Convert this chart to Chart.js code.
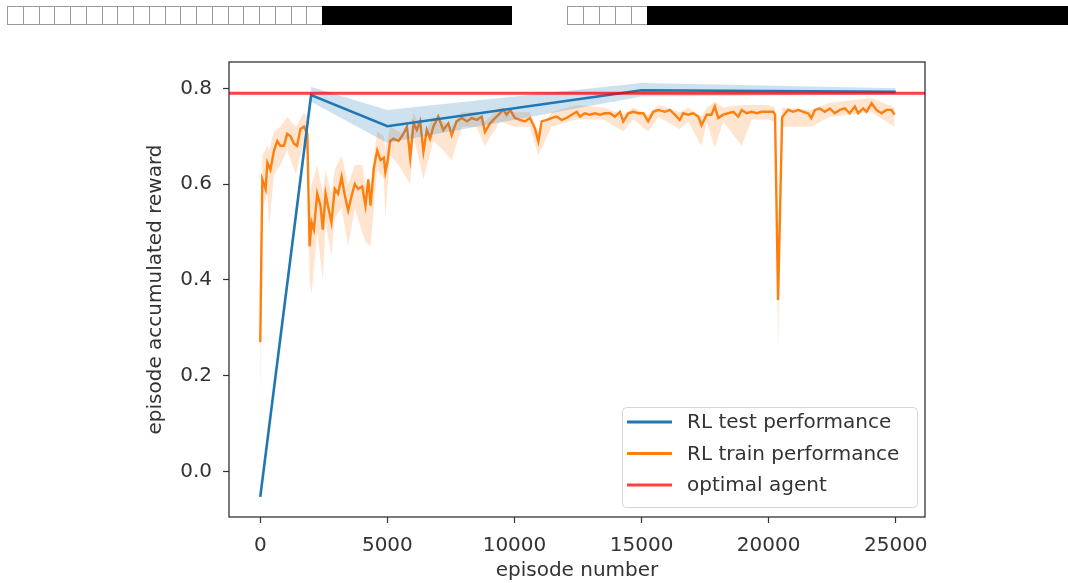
<!DOCTYPE html>
<html>
<head>
<meta charset="utf-8">
<script src="https://cdn.jsdelivr.net/npm/chart.js@4.4.1/dist/chart.umd.min.js"></script>
<style>
  html, body { margin: 0; padding: 0; background: #fff; }
  .wrap { position: relative; width: 1068px; height: 583px; overflow: hidden; }
  canvas { position: absolute; left: 0; top: 0; }
  .hdr { position: absolute; top: 6px; height: 19px; display: flex; }
  .hdr .box { height: 17px; border: 1px solid #999; border-right: none; background: #fff; }
  .hdr .box:last-of-type { border-right: 1px solid #999; }
  .hdr .bar { height: 19px; background: #000; }
</style>
</head>
<body>
<div class="wrap">
  <canvas id="chart" width="1068" height="583"></canvas>
  <div class="hdr" id="hdr1" style="left:7px"></div>
  <div class="hdr" id="hdr2" style="left:567px"></div>
</div>
<script>
// test runs (evaluated every few thousand episodes)
const testEpisodes = [0, 2000, 5000, 15000, 25000];
const testMean = [-0.053, 0.786, 0.721, 0.796, 0.793];
const testLow = [-0.056, 0.772, 0.686, 0.783, 0.787];
const testHigh = [-0.050, 0.803, 0.755, 0.811, 0.800];

// training curve (mean)
const trainEpisodes = [
  0, 80, 210, 280, 400, 540, 670, 790, 930, 1060, 1190, 1320, 1450, 1580, 1720, 1850,
  1940, 2020, 2110, 2240, 2370, 2460, 2570, 2700, 2800, 2930, 3060, 3200, 3330, 3460,
  3590, 3720, 3850, 4010, 4140, 4250, 4340, 4470, 4600, 4730, 4860, 4920, 5000, 5110,
  5240, 5440, 5630, 5770, 5900, 6030, 6160, 6290, 6420, 6550, 6680, 6810, 7000, 7200,
  7400, 7530, 7720, 7930, 8130, 8320, 8520, 8710, 8840, 9040, 9240, 9430, 9560, 9690,
  9830, 10020, 10220, 10410, 10610, 10800, 10940, 11070, 11270, 11460, 11660, 11860,
  12050, 12250, 12450, 12580, 12770, 12970, 13170, 13360, 13560, 13760, 13950, 14150,
  14280, 14480, 14670, 14870, 15070, 15260, 15460, 15660, 15920, 16110, 16310, 16500,
  16640, 16830, 17030, 17230, 17360, 17560, 17750, 17880, 18020, 18210, 18410, 18610,
  18800, 18940, 19130, 19330, 19530, 19720, 19990, 20180, 20250, 20370, 20530, 20760,
  20960, 21160, 21360, 21550, 21680, 21820, 22010, 22210, 22410, 22600, 22800, 23000,
  23190, 23390, 23520, 23720, 23850, 24050, 24240, 24440, 24640, 24830, 24950
];
const trainMean = [
  0.270, 0.610, 0.590, 0.645, 0.630, 0.670, 0.690, 0.680, 0.680, 0.705, 0.700, 0.685, 0.680, 0.715, 0.720, 0.705,
  0.470, 0.520, 0.505, 0.580, 0.555, 0.505, 0.580, 0.545, 0.520, 0.590, 0.580, 0.615, 0.575, 0.545,
  0.575, 0.600, 0.590, 0.595, 0.555, 0.610, 0.555, 0.635, 0.670, 0.650, 0.655, 0.625, 0.645, 0.690,
  0.695, 0.690, 0.705, 0.720, 0.655, 0.727, 0.713, 0.731, 0.668, 0.713, 0.695, 0.720, 0.741, 0.713,
  0.727, 0.702, 0.731, 0.738, 0.731, 0.738, 0.734, 0.741, 0.709, 0.727, 0.738, 0.748, 0.755, 0.745,
  0.755, 0.738, 0.734, 0.731, 0.738, 0.717, 0.689, 0.731, 0.734, 0.738, 0.741, 0.734,
  0.738, 0.745, 0.751, 0.741, 0.748, 0.745, 0.748, 0.745, 0.748, 0.748, 0.741, 0.751,
  0.731, 0.748, 0.751, 0.748, 0.748, 0.731, 0.751, 0.755, 0.751, 0.755, 0.745, 0.734,
  0.748, 0.745, 0.748, 0.741, 0.723, 0.745, 0.745, 0.762, 0.738, 0.745, 0.748, 0.751,
  0.741, 0.755, 0.748, 0.751, 0.748, 0.751, 0.751, 0.751, 0.745, 0.358, 0.740, 0.755,
  0.751, 0.755, 0.751, 0.748, 0.738, 0.755, 0.758, 0.751, 0.758, 0.748, 0.755, 0.758,
  0.748, 0.762, 0.748, 0.758, 0.751, 0.769, 0.755, 0.748, 0.755, 0.755, 0.745
];

// training spread (shaded band)
const bandEpisodes = [
  0, 80, 280, 350, 540, 790, 1060, 1400, 1720, 1850, 1940, 2020, 2240, 2460, 2570, 2800,
  2930, 3200, 3460, 3720, 4010, 4140, 4340, 4600, 4860, 4920, 5110, 5440, 5900, 6030,
  6420, 6810, 7200, 7530, 7930, 8500, 8840, 9430, 10020, 10600, 10940, 11460, 12450,
  13500, 14280, 14670, 15260, 15660, 16500, 16830, 17360, 17560, 17880, 18210, 18940,
  19330, 19990, 20250, 20370, 20530, 21680, 22400, 24050, 24950
];
const trainLow = [
  0.120, 0.550, 0.580, 0.510, 0.620, 0.640, 0.670, 0.620, 0.690, 0.670, 0.400, 0.370, 0.500, 0.400, 0.520, 0.450,
  0.530, 0.550, 0.470, 0.550, 0.500, 0.480, 0.470, 0.630, 0.610, 0.530, 0.660, 0.640, 0.600, 0.700,
  0.610, 0.690, 0.670, 0.650, 0.720, 0.720, 0.680, 0.730, 0.720, 0.720, 0.660, 0.720, 0.735,
  0.735, 0.710, 0.735, 0.710, 0.740, 0.715, 0.730, 0.680, 0.730, 0.676, 0.730, 0.680,
  0.735, 0.735, 0.730, 0.250, 0.720, 0.720, 0.740, 0.750, 0.720
];
const trainHigh = [
  0.420, 0.660, 0.680, 0.670, 0.710, 0.720, 0.740, 0.720, 0.750, 0.740, 0.550, 0.600, 0.640, 0.580, 0.630, 0.580,
  0.630, 0.660, 0.600, 0.640, 0.640, 0.600, 0.600, 0.710, 0.700, 0.670, 0.720, 0.710, 0.700, 0.750,
  0.700, 0.740, 0.730, 0.720, 0.750, 0.750, 0.730, 0.760, 0.750, 0.750, 0.710, 0.750, 0.765,
  0.760, 0.745, 0.760, 0.745, 0.765, 0.750, 0.760, 0.740, 0.760, 0.772, 0.760, 0.765,
  0.765, 0.765, 0.760, 0.420, 0.760, 0.755, 0.770, 0.780, 0.760
];

const optimalReward = 0.79;
const xTicks = [0, 5000, 10000, 15000, 20000, 25000];
const yTicks = [0.0, 0.2, 0.4, 0.6, 0.8];
const X_MIN = -1230, X_MAX = 26150;
const Y_MIN = -0.095, Y_MAX = 0.855;

const BLUE = "#1f77b4";
const ORANGE = "#ff7f0e";
const RED = "rgba(255, 0, 0, 0.75)";
const TEXT = "#333";

const pts = (xs, ys) => xs.map((x, i) => ({ x: x, y: ys[i] }));

// header strip (placeholder glyph boxes + black bars)
function header(id, boxes, boxWidth, barWidth) {
  const el = document.getElementById(id);
  for (let i = 0; i < boxes; i++) {
    const b = document.createElement("div");
    b.className = "box";
    b.style.width = (boxWidth - 1) + "px";
    el.appendChild(b);
  }
  const bar = document.createElement("div");
  bar.className = "bar";
  bar.style.width = barWidth + "px";
  el.appendChild(bar);
}
header("hdr1", 20, 15.75, 190);
header("hdr2", 5, 16, 421);

// frame + legend drawn inside the plot
const framePlugin = {
  id: "frame",
  afterDraw(chart) {
    const { ctx, chartArea: a } = chart;
    ctx.save();
    ctx.strokeStyle = TEXT;
    ctx.lineWidth = 1.3;
    ctx.strokeRect(a.left, a.top, a.right - a.left, a.bottom - a.top);

    // legend box
    const lx = 622, ly = 407, lw = 295, lh = 100;
    ctx.beginPath();
    ctx.roundRect(lx + 0.5, ly + 0.5, lw, lh, 4);
    ctx.fillStyle = "rgba(255,255,255,0.8)";
    ctx.fill();
    ctx.strokeStyle = "#d6d6d6";
    ctx.lineWidth = 1;
    ctx.stroke();

    const items = [
      ["RL test performance", BLUE],
      ["RL train performance", ORANGE],
      ["optimal agent", RED],
    ];
    ctx.font = "20px 'DejaVu Sans'";
    ctx.textBaseline = "middle";
    ctx.fillStyle = TEXT;
    items.forEach(([label, color], i) => {
      const y = 422 + i * 31.5;
      ctx.beginPath();
      ctx.moveTo(627, y);
      ctx.lineTo(672, y);
      ctx.strokeStyle = color;
      ctx.lineWidth = 3;
      ctx.stroke();
      ctx.fillText(label, 687, y + 1);
    });
    ctx.restore();
  },
};

Chart.defaults.font.family = "'DejaVu Sans', sans-serif";
Chart.defaults.font.size = 20;
Chart.defaults.color = TEXT;

new Chart(document.getElementById("chart"), {
  type: "line",
  data: {
    datasets: [
      {
        label: "optimal agent",
        data: pts([X_MIN, X_MAX], [optimalReward, optimalReward]),
        borderColor: RED,
        borderWidth: 3,
        order: 0,
      },
      {
        label: "RL test performance",
        data: pts(testEpisodes, testMean),
        borderColor: BLUE,
        borderWidth: 2.6,
        order: 1,
      },
      {
        label: "test high",
        data: pts(testEpisodes, testHigh),
        borderWidth: 0,
        backgroundColor: "rgba(31,119,180,0.22)",
        fill: "+1",
        order: 2,
      },
      {
        label: "test low",
        data: pts(testEpisodes, testLow),
        borderWidth: 0,
        order: 2,
      },
      {
        label: "RL train performance",
        data: pts(trainEpisodes, trainMean),
        borderColor: ORANGE,
        borderWidth: 2.4,
        order: 3,
      },
      {
        label: "train high",
        data: pts(bandEpisodes, trainHigh),
        borderWidth: 0,
        backgroundColor: "rgba(255,127,14,0.2)",
        fill: "+1",
        order: 4,
      },
      {
        label: "train low",
        data: pts(bandEpisodes, trainLow),
        borderWidth: 0,
        order: 4,
      },
    ],
  },
  options: {
    responsive: false,
    animation: false,
    events: [],
    elements: {
      point: { radius: 0 },
      line: { tension: 0, borderColor: "transparent", fill: false },
    },
    layout: { padding: { left: 0, top: 62, right: 143, bottom: 0 } },
    plugins: {
      legend: { display: false },
      tooltip: { enabled: false },
    },
    scales: {
      x: {
        type: "linear",
        min: X_MIN,
        max: X_MAX,
        afterBuildTicks: (s) => { s.ticks = xTicks.map((v) => ({ value: v })); },
        afterFit: (s) => { s.height = 66; },
        ticks: { callback: (v) => String(v), padding: 11, maxRotation: 0 },
        grid: { drawOnChartArea: false, drawTicks: true, tickLength: 6, tickColor: TEXT, tickWidth: 1.2 },
        border: { display: false },
        title: { display: true, text: "episode number", padding: { top: 0, bottom: 0 } },
      },
      y: {
        min: Y_MIN,
        max: Y_MAX,
        afterBuildTicks: (s) => { s.ticks = yTicks.map((v) => ({ value: v })); },
        afterFit: (s) => { s.width = 229; },
        ticks: { callback: (v) => v.toFixed(1), padding: 11 },
        grid: { drawOnChartArea: false, drawTicks: true, tickLength: 6, tickColor: TEXT, tickWidth: 1.2 },
        border: { display: false },
        title: { display: true, text: "episode accumulated reward", padding: { top: 144, bottom: 0 } },
      },
    },
  },
  plugins: [framePlugin],
});
</script>
</body>
</html>
